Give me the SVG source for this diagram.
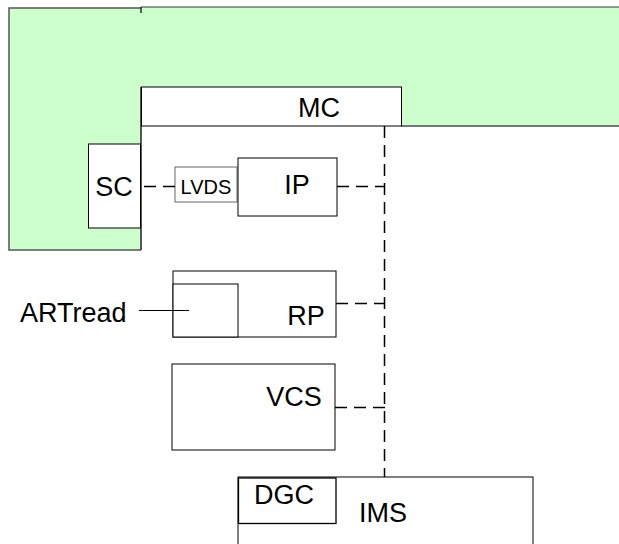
<svg xmlns="http://www.w3.org/2000/svg" width="619" height="544" viewBox="0 0 619 544">
<style>
.box{fill:#fff;stroke:#000;stroke-width:1}
.t{font-family:"Liberation Sans",Arial,sans-serif;font-size:27px;fill:#000}
.dash{fill:none;stroke:#000;stroke-width:1.5;stroke-dasharray:12 7}
.edge{fill:none;stroke:#555;stroke-width:1.5}
</style>
<g id="background">
<rect x="9" y="8" width="132" height="242" fill="#ccffcc"/>
<rect x="141" y="7" width="480" height="119" fill="#ccffcc"/>
<polyline class="edge" points="141,250 9,250 9,8 141,8"/>
<line x1="141" y1="7" x2="620" y2="7" stroke="#333" stroke-width="1"/>
<line x1="141" y1="7" x2="141" y2="13" stroke="#000" stroke-width="1.2"/>
<line x1="401" y1="126" x2="620" y2="126" stroke="#777" stroke-width="2"/>
<line x1="141" y1="87" x2="141" y2="250" stroke="#222" stroke-width="1.5"/>
</g>
<g id="MC">
<rect class="box" x="141.5" y="87" width="260" height="39"/>
<text class="t" x="319" y="117" text-anchor="middle">MC</text>
</g>
<g id="SC">
<rect class="box" x="88.5" y="144" width="52" height="84"/>
<text class="t" x="114" y="196" text-anchor="middle">SC</text>
</g>
<g id="LVDS">
<rect x="175" y="167" width="62" height="35" fill="#fff" stroke="#666" stroke-width="1"/>
<text class="t" x="206" y="194" text-anchor="middle" style="font-size:20px">LVDS</text>
</g>
<g id="IP">
<rect class="box" x="238" y="158" width="99" height="58"/>
<text class="t" x="297" y="194" text-anchor="middle">IP</text>
</g>
<g id="RP">
<rect class="box" x="173" y="271" width="163" height="66"/>
<rect class="box" x="173" y="284" width="65" height="53"/>
<text class="t" x="306" y="325" text-anchor="middle">RP</text>
</g>
<g id="ARTread">
<text class="t" x="20" y="322">ARTread</text>
</g>
<g id="VCS">
<rect class="box" x="172" y="364" width="163" height="86"/>
<text class="t" x="294" y="406" text-anchor="middle">VCS</text>
</g>
<g id="IMS">
<rect class="box" x="238" y="477" width="295" height="80"/>
<text class="t" x="383" y="522" text-anchor="middle">IMS</text>
</g>
<g id="DGC">
<rect class="box" x="238.5" y="478" width="97.5" height="45.5" style="stroke-width:1.3"/>
<text class="t" x="284" y="504" text-anchor="middle">DGC</text>
</g>
<g id="connectors">
<line class="dash" x1="384.5" y1="126" x2="384.5" y2="477"/>
<line class="dash" x1="175" y1="186.5" x2="141" y2="186.5"/>
<line class="dash" x1="337" y1="186.5" x2="385" y2="186.5"/>
<line class="dash" x1="336" y1="303.5" x2="385" y2="303.5"/>
<line class="dash" x1="335" y1="407.5" x2="385" y2="407.5"/>
<line x1="139" y1="310.5" x2="189" y2="310.5" stroke="#000" stroke-width="1"/>
</g>
</svg>
